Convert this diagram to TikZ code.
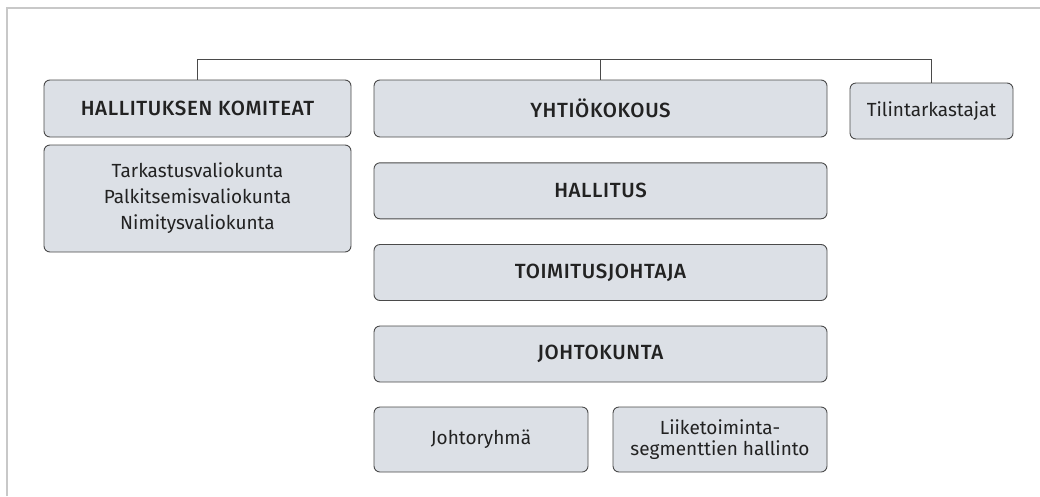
\documentclass[tikz,border=0pt]{standalone}
\usepackage{fontspec}
\setmainfont{Fira Sans}[BoldFont={Fira Sans Medium}]
\definecolor{boxfill}{HTML}{DCE0E6}
\definecolor{boxline}{HTML}{4A4A4A}
\definecolor{txt}{HTML}{222222}
\definecolor{frame}{HTML}{C8C8C8}
\begin{document}
\begin{tikzpicture}[x=1pt,y=-1pt,
  box/.style={draw=boxline, line width=0.9pt, fill=boxfill, rounded corners=6pt,
    inner sep=0pt, text=txt, align=center},
  caps/.style={font=\fontsize{20.5}{24}\selectfont\bfseries\addfontfeatures{LetterSpace=3}},
  small/.style={font=\fontsize{19}{26}\selectfont},
  conn/.style={draw=boxline, line width=0.9pt}]
\useasboundingbox (0,0) rectangle (1040,496);
\draw[frame, line width=1.5pt] (7,496) -- (7,8) -- (1040,8);
\node[box, caps, minimum width=307, minimum height=57] (hk) at (197.5,108.5) {HALLITUKSEN KOMITEAT};
\node[box, small, minimum width=307, minimum height=107] (com) at (197.5,198.5) {Tarkastusvaliokunta\\Palkitsemisvaliokunta\\Nimitysvaliokunta};
\node[box, caps, minimum width=453, minimum height=57] (yk) at (600.5,108.5) {YHTIÖKOKOUS};
\node[box, small, minimum width=163, minimum height=56] (tt) at (931.5,111) {Tilintarkastajat};
\node[box, caps, minimum width=453, minimum height=56] (hal) at (600.5,190.8) {HALLITUS};
\node[box, caps, minimum width=453, minimum height=56] (toi) at (600.5,272.5) {TOIMITUSJOHTAJA};
\node[box, caps, minimum width=453, minimum height=56] (joh) at (600.5,354) {JOHTOKUNTA};
\node[box, small, minimum width=214, minimum height=65] (jr) at (481,439.5) {Johtoryhmä};
\node[box, small, font=\fontsize{19}{20.5}\selectfont, minimum width=214, minimum height=65] (lt) at (720,439.5) {Liiketoiminta-\\segmenttien hallinto};
\coordinate (top) at (0,59);
\draw[conn] (hk.north) -- (hk.north |- top) -| (tt.north);
\draw[conn] (yk.north) -- (yk.north |- top);
\end{tikzpicture}
\end{document}
